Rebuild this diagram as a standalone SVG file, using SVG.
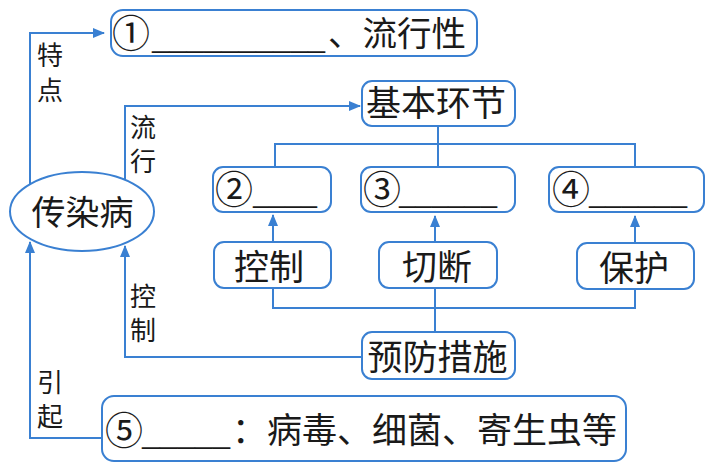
<svg xmlns="http://www.w3.org/2000/svg" width="719" height="472" viewBox="0 0 719 472">
<style>
.box{fill:#fff;stroke:#3a80d2;stroke-width:2}
.ln{fill:none;stroke:#3a80d2;stroke-width:2}
.t{font-family:"Noto Sans CJK SC","Noto Sans",sans-serif;font-size:35px;fill:#1a1a1a}
.d{font-family:"Noto Sans CJK SC","Noto Sans",sans-serif;font-size:38px;fill:#1a1a1a}
.s{font-family:"Noto Sans CJK SC","Noto Sans",sans-serif;font-size:26px;fill:#1a1a1a;text-anchor:middle}
.u{font-family:"Liberation Serif",serif;font-size:35px;fill:#1a1a1a}
.c{text-anchor:middle}
</style>
<defs>
<marker id="ah" markerUnits="userSpaceOnUse" markerWidth="12" markerHeight="10" refX="11" refY="5" orient="auto">
<path d="M0,0 L12,5 L0,10 Z" fill="#3a80d2"/>
</marker>
</defs>
<rect width="719" height="472" fill="#fff"/>
<g id="connectors">
<path class="ln" d="M30,184 V33 H104" marker-end="url(#ah)"/>
<path class="ln" d="M125,179 V106 H360" marker-end="url(#ah)"/>
<path class="ln" d="M438,126 V144 M275,167 V144 H635 V167 M438,144 V167"/>
<path class="ln" d="M273,242 V215" marker-end="url(#ah)"/>
<path class="ln" d="M435,242 V216" marker-end="url(#ah)"/>
<path class="ln" d="M635,243 V216" marker-end="url(#ah)"/>
<path class="ln" d="M273,288 V308 H635 V289 M435,288 V332"/>
<path class="ln" d="M362,357 H125 V246" marker-end="url(#ah)"/>
<path class="ln" d="M102,438 H30 V242" marker-end="url(#ah)"/>
</g>
<g id="labels">
<text class="s" x="50" y="65">特</text>
<text class="s" x="50" y="100">点</text>
<text class="s" x="143" y="137">流</text>
<text class="s" x="143" y="171">行</text>
<text class="s" x="143" y="306">控</text>
<text class="s" x="143" y="340">制</text>
<text class="s" x="50" y="392">引</text>
<text class="s" x="50" y="426">起</text>
</g>
<g id="n1">
<rect class="box" x="111" y="10" width="366" height="46" rx="12"/>
<text class="d" x="112" y="47">①</text>
<text class="u" x="152" y="48" textLength="173" lengthAdjust="spacingAndGlyphs">__________</text>
<text class="t" x="328" y="46" style="font-size:34.5px">、流行性</text>
</g>
<g id="disease">
<ellipse cx="82" cy="211.5" rx="72" ry="39.5" fill="#fff" stroke="#3a80d2" stroke-width="2"/>
<text class="t c" x="82.5" y="225" style="font-size:34px">传染病</text>
</g>
<g id="basic">
<rect class="box" x="362" y="81" width="153" height="45" rx="10"/>
<text class="t c" x="436" y="116">基本环节</text>
</g>
<g id="n2">
<rect class="box" x="213" y="167" width="118" height="45" rx="10"/>
<text class="d" x="215" y="203">②</text>
<text class="u" x="253" y="203" textLength="64" lengthAdjust="spacingAndGlyphs">____</text>
</g>
<g id="n3">
<rect class="box" x="361" y="167" width="154" height="45" rx="10"/>
<text class="d" x="363" y="203">③</text>
<text class="u" x="399" y="203" textLength="98" lengthAdjust="spacingAndGlyphs">______</text>
</g>
<g id="n4">
<rect class="box" x="549" y="167" width="155" height="45" rx="10"/>
<text class="d" x="552" y="203">④</text>
<text class="u" x="589" y="203" textLength="98" lengthAdjust="spacingAndGlyphs">______</text>
</g>
<g id="control">
<rect class="box" x="214" y="242" width="117" height="46" rx="10"/>
<text class="t c" x="269" y="280">控制</text>
</g>
<g id="cut">
<rect class="box" x="379" y="242" width="118" height="46" rx="10"/>
<text class="t c" x="437" y="280">切断</text>
</g>
<g id="protect">
<rect class="box" x="577" y="243" width="117" height="46" rx="10"/>
<text class="t c" x="634" y="281">保护</text>
</g>
<g id="prevent">
<rect class="box" x="362" y="332" width="153" height="47" rx="10"/>
<text class="t c" x="437.5" y="370">预防措施</text>
</g>
<g id="n5">
<rect class="box" x="102" y="396" width="524" height="65" rx="12"/>
<text class="d" x="105" y="444">⑤</text>
<text class="u" x="142" y="444" textLength="88" lengthAdjust="spacingAndGlyphs">_____</text>
<text class="t" x="232" y="443">：病毒、细菌、寄生虫等</text>
</g>
</svg>
